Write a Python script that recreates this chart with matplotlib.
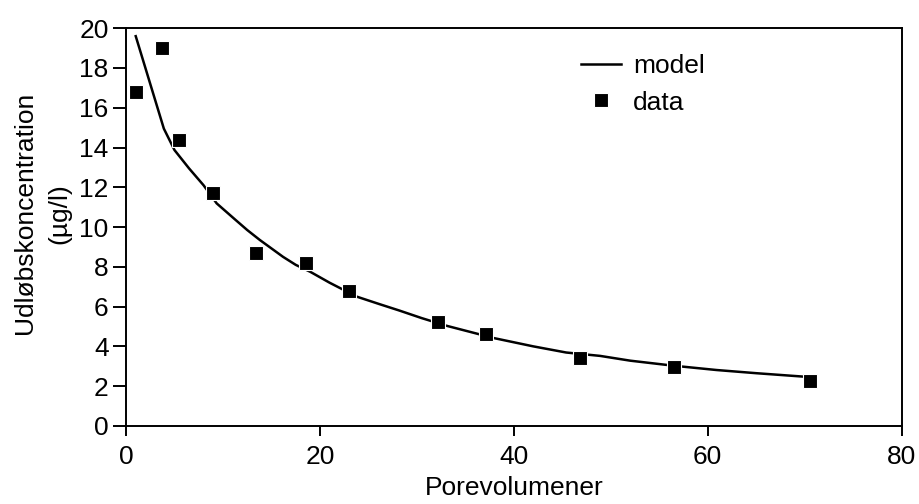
import matplotlib
matplotlib.use('Agg')
import matplotlib.pyplot as plt

font = 19
linew = 1.4

# data
data_x = [1.0, 3.7, 5.5, 9.0, 13.4, 18.6, 23.0, 32.2, 37.1, 46.8, 56.5, 70.6]
data_y = [16.8, 19.0, 14.4, 11.7, 8.7, 8.2, 6.8, 5.2, 4.6, 3.4, 2.95, 2.28]

model_x = [1.0, 3.9, 5.0, 6.5, 8.0, 9.35, 11.2, 12.5, 13.8, 16.2, 17.5, 19.0, 21.0,
           23.8, 26.1, 28.2, 30.5, 33.1, 38.0, 42.0, 45.4, 48.9, 52.0, 56.4, 60.9, 65.0, 69.8]
model_y = [19.6, 14.95, 13.87, 12.95, 12.1, 11.19, 10.4, 9.85, 9.35, 8.5, 8.1, 7.75, 7.2,
           6.5, 6.13, 5.8, 5.42, 5.03, 4.41, 4.0, 3.69, 3.52, 3.28, 3.03, 2.81, 2.65, 2.48]

xticks = [0, 20, 40, 60, 80]
yticks = [0, 2, 4, 6, 8, 10, 12, 14, 16, 18, 20]

plt.rcParams['font.family'] = ['Liberation Sans', 'DejaVu Sans']

fig = plt.figure(figsize=(9.2, 5.04), dpi=100)
ax = fig.add_axes([0.137, 0.155, 0.843, 0.789])

ax.plot(model_x, model_y, color='black', linewidth=1.8, label='model', zorder=2)
ax.plot(data_x, data_y, linestyle='none', marker='s', markersize=9.5,
        markerfacecolor='black', markeredgecolor='white', markeredgewidth=0.8,
        label='data', zorder=3)

ax.set_xlim(0, 80)
ax.set_ylim(0, 20)
ax.set_xticks(xticks)
ax.set_yticks(yticks)
ax.tick_params(axis='y', direction='out', length=9.5, width=linew, labelsize=font, pad=3)
ax.tick_params(axis='x', direction='out', length=7, width=linew, labelsize=font, pad=7)
ax.tick_params(top=False, right=False)
for s in ax.spines.values():
    s.set_linewidth(linew)

ax.set_xlabel('Porevolumener', fontsize=font, labelpad=5)
ax.set_ylabel('Udløbskoncentration\n(µg/l)', fontsize=font, labelpad=6, linespacing=1.5)
ax.yaxis.label.set_y(0.535)

ax.legend(loc='upper left', bbox_to_anchor=(0.556, 0.995), frameon=False, fontsize=font,
          handlelength=1.52, handletextpad=0.45, labelspacing=0.48)

fig.savefig('out.png', dpi=100)
